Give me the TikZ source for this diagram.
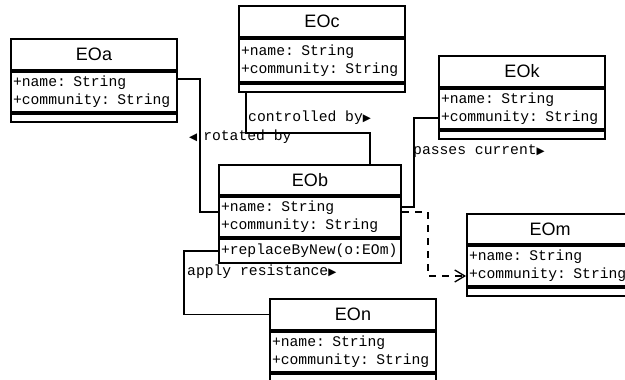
\documentclass[tikz,border=0pt]{standalone}
\usepackage{fontspec}
\setmainfont{Liberation Sans}
\setmonofont{Liberation Mono}
\newfontfamily\symfont{DejaVu Sans}
\usetikzlibrary{positioning,arrows.meta}
\newcommand\rtri{{\symfont\fontsize{10.5}{10}\selectfont ▶}}
\newcommand\ltri{{\symfont\fontsize{10.5}{10}\selectfont ◀}}
\tikzset{
	classname/.style={draw, line width=2pt, anchor=north west, minimum height=31pt, inner sep=0pt, font=\fontsize{18}{20}\selectfont},
	classattr/.style={draw, line width=2pt, text width=#1, minimum height=40pt, inner xsep=2pt, inner ysep=0pt, align=left, font=\ttfamily\fontsize{14.7}{18}\selectfont},
	classop/.style={classattr=#1, minimum height=8pt},
	assoc/.style={line width=1.3pt},
	lbl/.style={anchor=west, inner sep=0pt, font=\ttfamily\fontsize{14.7}{18}\selectfont},
}
\begin{document}
\begin{tikzpicture}[x=1pt, y=-1pt]
	\fill[white] (0,0) rectangle (625,380);
	\useasboundingbox (0,0) rectangle (625,380);
	% classes
	\node[classname, minimum width=166pt] (EOa) at (10,38) {EOa};
	\node[classattr=162pt, below=0pt of EOa] (EOa-attr) {+name: String\\+community: String};
	\node[classop=162pt, below=0pt of EOa-attr] (EOa-op) {};
	\node[classname, minimum width=166pt] (EOc) at (238,5) {EOc};
	\node[classattr=162pt, below=0pt of EOc, minimum height=43pt] (EOc-attr) {+name: String\\+community: String};
	\node[classop=162pt, below=0pt of EOc-attr] (EOc-op) {};
	\node[classname, minimum width=166pt] (EOk) at (438,55) {EOk};
	\node[classattr=162pt, below=0pt of EOk] (EOk-attr) {+name: String\\+community: String};
	\node[classop=162pt, below=0pt of EOk-attr] (EOk-op) {};
	\node[classname, minimum width=182pt, minimum height=30pt] (EOb) at (218,164) {EOb};
	\node[classattr=178pt, below=0pt of EOb] (EOb-attr) {+name: String\\+community: String};
	\node[classop=178pt, below=0pt of EOb-attr, minimum height=24pt] (EOb-op) {+replaceByNew(o:EOm)};
	\node[classname, minimum width=166pt, minimum height=30pt] (EOm) at (466,213) {EOm};
	\node[classattr=162pt, below=0pt of EOm] (EOm-attr) {+name: String\\+community: String};
	\node[classop=162pt, below=0pt of EOm-attr] (EOm-op) {};
	\node[classname, minimum width=166pt] (EOn) at (269,298) {EOn};
	\node[classattr=162pt, below=0pt of EOn] (EOn-attr) {+name: String\\+community: String};
	\node[classop=162pt, below=0pt of EOn-attr] (EOn-op) {};
	% associations
	\draw[assoc] ([yshift=-8pt]EOa-attr.north east) -| ([xshift=-18pt, yshift=-16pt]EOb-attr.north west) -- ([yshift=-16pt]EOb-attr.north west);
	\draw[assoc] ([xshift=8pt]EOc-op.south west) -- ++(0,40) -| ([xshift=-32pt]EOb.north east);
	\draw[assoc] ([yshift=-30pt]EOk-attr.north west) -| ([xshift=12pt, yshift=-11pt]EOb-attr.north east) -- ([yshift=-11pt]EOb-attr.north east);
	\draw[assoc, dash pattern=on 7pt off 6pt, -{Straight Barb[length=10pt, width=12pt]}] ([yshift=-16pt]EOb-attr.north east) -| ([xshift=-38pt, yshift=-31pt]EOm-attr.north west) -- ([yshift=-31pt]EOm-attr.north west);
	\draw[assoc] (EOb-op.west) -| ([xshift=-85pt]EOn.west) -- (EOn.west);
	% labels
	\node[lbl] (rotated) at (189,137) {\ltri\hspace{6pt}rotated by};
	\node[lbl] (controlled) at (248,118) {controlled by\rtri};
	\node[lbl] (passes) at (413,151) {passes current\rtri};
	\node[lbl] (resist) at (187,272) {apply resistance\rtri};
\end{tikzpicture}
\end{document}
